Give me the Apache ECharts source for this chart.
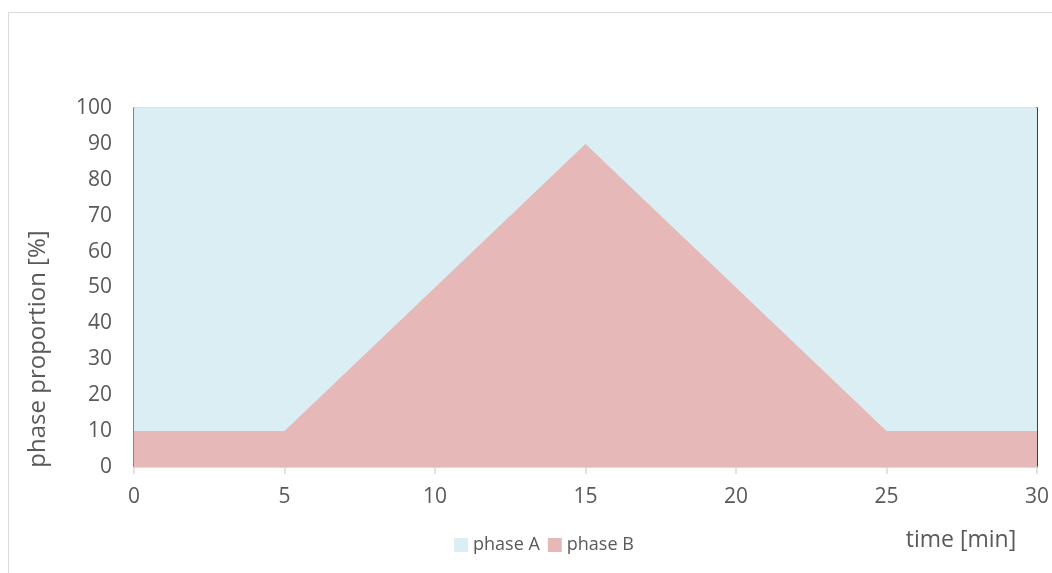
<!DOCTYPE html>
<html>
<head>
<meta charset="utf-8">
<script src="https://cdn.jsdelivr.net/npm/echarts@6/dist/echarts.min.js"></script>
<style>
html,body{margin:0;padding:0;background:#fff;}
#c{width:1052px;height:573px;}
</style>
</head>
<body>
<div id="c"></div>
<script>
var times = [0, 5, 15, 25, 30];
var phaseB = [10, 10, 90, 10, 10];
var phaseA = [90, 90, 10, 90, 90];
var xTicks = [0, 5, 10, 15, 20, 25, 30];
var yTicks = [0, 10, 20, 30, 40, 50, 60, 70, 80, 90, 100];

var chart = echarts.init(document.getElementById('c'), null, {renderer: 'canvas'});
var font = '"Open Sans", sans-serif';
var txt = '#595959';
// phase A is drawn on top of phase B: its upper edge is B + A
var topA = times.map(function(x, i){ return [x, phaseB[i] + phaseA[i]]; });
var ptsB = times.map(function(x, i){ return [x, phaseB[i]]; });

chart.setOption({
  animation: false,
  backgroundColor: '#fff',
  graphic: [{
    type: 'rect', shape: {x: 8.5, y: 12.5, width: 1080, height: 620},
    style: {fill: 'none', stroke: '#d9d9d9', lineWidth: 1}, silent: true, z: -10
  }, {
    type: 'text', x: 38, y: 349, rotation: Math.PI / 2,
    style: {text: 'phase proportion [%]', font: '24px ' + font, fill: txt, align: 'center', verticalAlign: 'middle'},
    silent: true
  }],
  grid: {left: 134, right: 15, top: 108, bottom: 106, containLabel: false},
  legend: {
    data: ['phase A', 'phase B'],
    left: 449, top: 531,
    itemWidth: 14, itemHeight: 14, itemGap: 8,
    icon: 'rect',
    textStyle: {fontFamily: font, fontSize: 18, color: txt, padding: [0,0,0,0]}
  },
  xAxis: {
    type: 'value', min: 0, max: 30, interval: 5,
    name: 'time [min]', nameLocation: 'end',
    nameTextStyle: {fontFamily: font, fontSize: 23, color: txt, align: 'center', verticalAlign: 'top', padding: [62, 0, 0, -152]},
    nameGap: 0,
    axisLine: {show: true, lineStyle: {color: '#d9d9d9', width: 1.5}},
    axisTick: {show: true, length: 7, lineStyle: {color: '#d9d9d9', width: 1.5}},
    axisLabel: {fontFamily: font, fontSize: 21, color: txt, margin: 20, formatter: function(v){ return xTicks.indexOf(v) >= 0 ? String(v) : ''; }},
    splitLine: {show: false}
  },
  yAxis: [{
    type: 'value', min: 0, max: 100, interval: 10,
    axisLine: {show: true, lineStyle: {color: '#595959', width: 1.5}},
    axisTick: {show: false},
    axisLabel: {fontFamily: font, fontSize: 21, color: txt, margin: 22, formatter: function(v){ return yTicks.indexOf(v) >= 0 ? String(v) : ''; }},
    splitLine: {show: true, lineStyle: {color: '#d9d9d9', width: 1.5}}
  }, {
    type: 'value', min: 0, max: 100, interval: 10, position: 'right',
    axisLine: {show: true, lineStyle: {color: '#000', width: 1.5}},
    axisTick: {show: false}, axisLabel: {show: false}, splitLine: {show: false}
  }],
  series: [{
    name: 'phase A', type: 'line',
    data: topA, z: 2,
    symbol: 'none', lineStyle: {width: 0},
    itemStyle: {color: '#daeef3'},
    areaStyle: {color: '#daeef3', opacity: 1}
  }, {
    name: 'phase B', type: 'line',
    data: ptsB, z: 3,
    symbol: 'none', lineStyle: {width: 0},
    itemStyle: {color: '#e6b8b7'},
    areaStyle: {color: '#e6b8b7', opacity: 1}
  }]
});
</script>
</body>
</html>
